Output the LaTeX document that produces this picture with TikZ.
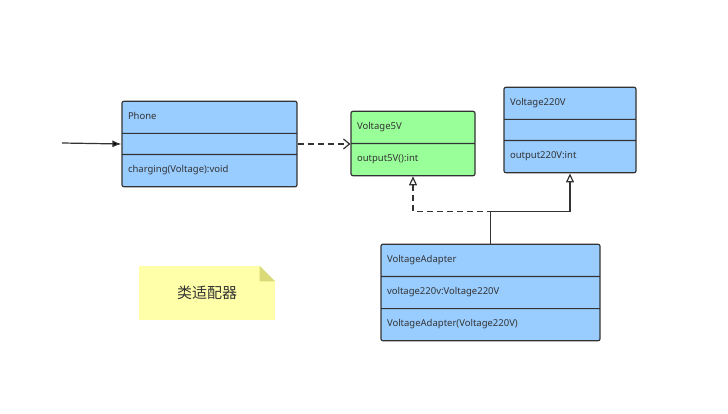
\documentclass[tikz,border=0pt]{standalone}
\usepackage{fontspec}
\setmainfont{Noto Sans}
\newfontfamily\cjk{Noto Sans CJK SC}
\usetikzlibrary{shapes.multipart,shapes.misc,arrows.meta,positioning}
\definecolor{clsblue}{RGB}{153,204,255}
\definecolor{clsgreen}{RGB}{153,255,153}
\definecolor{noteyellow}{RGB}{255,255,170}
\definecolor{foldyellow}{RGB}{218,218,120}
\tikzset{every picture/.style={line width=1.2pt},
  cls/.style={rectangle split, rectangle split parts=3, draw=black!80, fill=clsblue,
    rounded corners=2pt, inner xsep=6pt, inner ysep=10pt,
    rectangle split empty part height=11pt,
    rectangle split part align={center,left,left},
    font=\fontsize{9.5}{11}\selectfont, text=black!80},
  cls2/.style={cls, rectangle split parts=2},
  hd/.style={font=\fontsize{9.5}{11}\selectfont\bfseries},
  real/.style={-{Triangle[open,length=9pt,width=8pt]}, draw=black!80},
  dep/.style={-{Straight Barb[length=6pt,width=10pt]}, dashed, dash pattern=on 6pt off 4pt, draw=black!80}}
\begin{document}
\begin{tikzpicture}[x=1pt,y=1pt,yscale=-1]
	\useasboundingbox (0,0) rectangle (728,414);
	
	% classes
	\node [cls, text width=163pt] (phone) at (209.5,144)
		{\nodepart[hd]{one}\strut Phone \nodepart{two} \nodepart{three}\strut charging(Voltage):void};
	\node [cls2, fill=clsgreen, text width=112pt] (v5) at (413,143.5)
		{\nodepart[hd]{one}\strut Voltage5V \nodepart{two}\strut output5V():int};
	\node [cls, text width=120pt] (v220) at (570,130)
		{\nodepart[hd]{one}\strut Voltage220V \nodepart{two} \nodepart{three}\strut output220V:int};
	\node [cls, text width=207pt] (adapter) at (490.5,292.5)
		{\nodepart[hd]{one}\strut VoltageAdapter \nodepart{two}\strut voltage220v:Voltage220V \nodepart{three}\strut VoltageAdapter(Voltage220V)};
	
	% connectors
	\coordinate (start) at (62,143);
	\draw [-{Latex[length=9pt,width=7pt]}, draw=black!80] (start) -- (phone.west);
	\draw [dep] (phone.east) -- (phone.east -| v5.west);
	\draw [real, dashed, dash pattern=on 6pt off 4pt] (adapter.north) -- ++(0,-32) -| (v5.south);
	\draw [real] (adapter.north) -- ++(0,-32) -| (v220.south);
	
	% note
	\node [draw=none, fill=noteyellow, minimum width=136pt, minimum height=54pt,
		font=\cjk\fontsize{15}{18}\selectfont, text=black!80] (note) at (207,293) {类适配器};
	\fill [foldyellow] (note.north east) ++(-16,0) -- ++(16,16) -- ++(-16,0) -- cycle;
	\fill [white] (note.north east) ++(-16,0) -- ++(16,0) -- ++(0,16) -- cycle;
\end{tikzpicture}
\end{document}
